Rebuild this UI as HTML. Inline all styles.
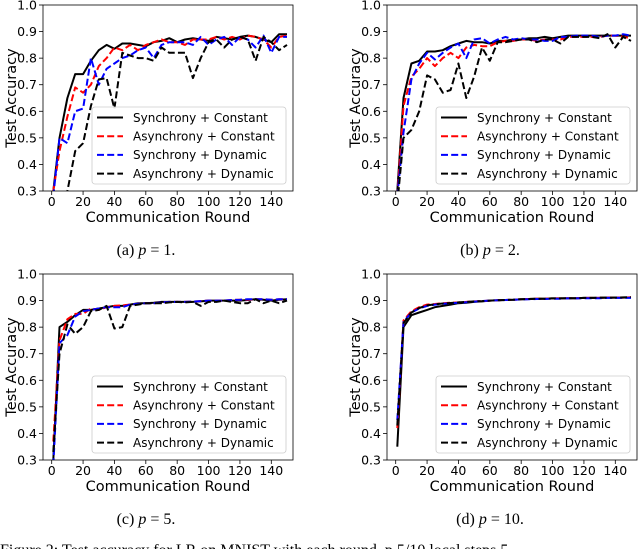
<!DOCTYPE html>
<html><head><meta charset="utf-8">
<style>
body{margin:0;background:#fff;width:640px;height:549px;overflow:hidden;}
svg{display:block;}
text{font-family:"DejaVu Sans","Liberation Sans",sans-serif;fill:#000;}
.cap{font-family:"Liberation Serif",serif;font-size:16px;}
</style></head>
<body>
<svg id="fig" width="640" height="549" viewBox="0 0 640 549"></svg>
<script>
const rounds = [1,5,10,15,20,25,30,35,40,45,50,55,60,65,70,75,80,85,90,95,100,105,110,115,120,125,130,135,140,145,150];
const seriesNames = ["Synchrony + Constant","Asynchrony + Constant","Synchrony + Dynamic","Asynchrony + Dynamic"];
const yTicks = [0.3,0.4,0.5,0.6,0.7,0.8,0.9,1.0];
const xTicks = [0,20,40,60,80,100,120,140];

const aSC = [0.30,0.50,0.65,0.74,0.74,0.79,0.83,0.85,0.835,0.855,0.855,0.85,0.845,0.86,0.865,0.875,0.86,0.87,0.875,0.87,0.865,0.88,0.875,0.87,0.88,0.885,0.88,0.87,0.86,0.89,0.89];
const aAC = [0.30,0.45,0.58,0.69,0.67,0.70,0.77,0.80,0.84,0.83,0.85,0.83,0.85,0.86,0.87,0.86,0.86,0.85,0.87,0.87,0.87,0.88,0.87,0.88,0.87,0.885,0.88,0.87,0.84,0.88,0.885];
const aSD = [0.28,0.50,0.48,0.60,0.61,0.80,0.70,0.76,0.78,0.80,0.81,0.83,0.84,0.80,0.85,0.86,0.86,0.86,0.85,0.88,0.85,0.87,0.88,0.85,0.88,0.87,0.84,0.885,0.82,0.88,0.88];
const aAD = [0.15,0.15,0.30,0.45,0.48,0.62,0.72,0.725,0.61,0.82,0.81,0.80,0.80,0.79,0.84,0.82,0.82,0.82,0.725,0.80,0.86,0.87,0.84,0.87,0.88,0.87,0.79,0.88,0.86,0.83,0.85];

const bSC = [0.30,0.65,0.78,0.79,0.825,0.825,0.83,0.845,0.855,0.865,0.86,0.86,0.855,0.865,0.865,0.87,0.87,0.875,0.875,0.88,0.875,0.88,0.885,0.885,0.885,0.885,0.885,0.885,0.885,0.885,0.885];
const bAC = [0.28,0.62,0.73,0.76,0.80,0.77,0.80,0.82,0.80,0.84,0.85,0.845,0.845,0.86,0.865,0.865,0.87,0.87,0.865,0.87,0.87,0.87,0.88,0.88,0.88,0.88,0.88,0.885,0.885,0.88,0.875];
const bSD = [0.28,0.52,0.72,0.78,0.82,0.795,0.82,0.84,0.855,0.80,0.87,0.875,0.855,0.87,0.88,0.87,0.875,0.87,0.87,0.865,0.865,0.88,0.88,0.885,0.885,0.885,0.88,0.885,0.885,0.89,0.885];
const bAD = [0.25,0.50,0.53,0.60,0.735,0.72,0.67,0.68,0.78,0.65,0.73,0.84,0.79,0.86,0.86,0.865,0.87,0.87,0.86,0.87,0.87,0.855,0.88,0.88,0.88,0.88,0.875,0.89,0.84,0.88,0.865];

const cSC = [0.30,0.80,0.82,0.845,0.865,0.865,0.87,0.875,0.88,0.88,0.885,0.89,0.89,0.892,0.895,0.895,0.895,0.895,0.895,0.897,0.90,0.90,0.90,0.90,0.90,0.902,0.905,0.903,0.90,0.903,0.905];
const cAC = [0.37,0.75,0.83,0.85,0.85,0.87,0.865,0.875,0.88,0.882,0.885,0.888,0.89,0.89,0.893,0.895,0.895,0.895,0.896,0.898,0.90,0.90,0.90,0.902,0.903,0.903,0.905,0.905,0.903,0.905,0.905];
const cSD = [0.28,0.74,0.77,0.84,0.86,0.865,0.87,0.875,0.875,0.875,0.885,0.888,0.89,0.89,0.893,0.895,0.895,0.895,0.896,0.898,0.90,0.90,0.90,0.902,0.903,0.905,0.905,0.905,0.903,0.905,0.905];
const cAD = [0.33,0.70,0.81,0.775,0.80,0.86,0.865,0.88,0.795,0.80,0.88,0.885,0.89,0.89,0.89,0.893,0.895,0.893,0.895,0.88,0.895,0.895,0.90,0.895,0.89,0.89,0.905,0.89,0.90,0.89,0.90];

const dSC = [0.35,0.80,0.845,0.855,0.865,0.875,0.88,0.885,0.89,0.892,0.895,0.897,0.90,0.901,0.902,0.903,0.905,0.906,0.907,0.907,0.908,0.908,0.909,0.909,0.91,0.91,0.91,0.911,0.911,0.911,0.912];
const dAC = [0.42,0.825,0.86,0.875,0.885,0.887,0.89,0.892,0.893,0.895,0.897,0.898,0.90,0.901,0.902,0.903,0.905,0.906,0.907,0.907,0.908,0.908,0.909,0.909,0.91,0.91,0.91,0.911,0.911,0.911,0.912];
const dSD = [0.45,0.82,0.855,0.87,0.88,0.885,0.888,0.89,0.892,0.894,0.896,0.898,0.90,0.901,0.902,0.903,0.904,0.905,0.906,0.906,0.907,0.907,0.908,0.908,0.909,0.909,0.909,0.91,0.91,0.91,0.91];
const dAD = [0.43,0.815,0.855,0.872,0.882,0.886,0.889,0.891,0.893,0.895,0.897,0.898,0.90,0.901,0.902,0.903,0.905,0.906,0.907,0.907,0.908,0.908,0.909,0.909,0.91,0.91,0.911,0.911,0.911,0.912,0.913];

const panels = [
  {id:"a", caption:"p = 1.", ox:0, oy:0, data:[aSC,aAC,aSD,aAD]},
  {id:"b", caption:"p = 2.", ox:344, oy:0, data:[bSC,bAC,bSD,bAD]},
  {id:"c", caption:"p = 5.", ox:0, oy:269, data:[cSC,cAC,cSD,cAD]},
  {id:"d", caption:"p = 10.", ox:344, oy:269, data:[dSC,dAC,dSD,dAD]}
];
const styles = [
  {c:"#000", dash:null},
  {c:"#ff0000", dash:"7,3.2"},
  {c:"#0000ff", dash:"7,3.2"},
  {c:"#000", dash:"7,3.2"}
];
const NS="http://www.w3.org/2000/svg";
const fig=document.getElementById("fig");
function mk(tag,attrs,parent){const e=document.createElementNS(NS,tag);for(const k in attrs)e.setAttribute(k,attrs[k]);(parent||fig).appendChild(e);return e;}

const L=43,R=293,T=5,B=191;
function xs(v){return 51.7+v*(271.3-51.7)/140;}
function ys(v){return B-(v-0.3)*(B-T)/0.7;}

panels.forEach(p=>{
  const g=mk("g",{transform:`translate(${p.ox},${p.oy})`});
  
  
  const cp=mk("clipPath",{id:"clip"+p.id},g);
  mk("rect",{x:L,y:T,width:R-L,height:B-T},cp);
  yTicks.forEach(t=>{
    const y=ys(t);
    mk("line",{x1:L-4,x2:L,y1:y,y2:y,stroke:"#000","stroke-width":0.8},g);
    const tx=mk("text",{x:L-6,y:y+4.5,"text-anchor":"end","font-size":"12.5"},g);
    tx.textContent=t.toFixed(1);
    
    
  });
  xTicks.forEach(t=>{
    const x=xs(t);
    mk("line",{x1:x,x2:x,y1:B,y2:B+4,stroke:"#000","stroke-width":0.8},g);
    const tx=mk("text",{x:x,y:B+15,"text-anchor":"middle","font-size":"12.5"},g);
    tx.textContent=t;
    
    
  });
  p.data.forEach((vals,i)=>{
    const d=vals.map((v,j)=>(j?"L":"M")+xs(rounds[j]).toFixed(1)+","+ys(v).toFixed(1)).join(" ");
    const path=mk("path",{d:d,fill:"none",stroke:styles[i].c,"stroke-width":2,"clip-path":`url(#clip${p.id})`,"stroke-linejoin":"round"},g);
    if(styles[i].dash)path.setAttribute("stroke-dasharray",styles[i].dash);
    
    
  });
  const frame=mk("rect",{x:L,y:T,width:R-L,height:B-T,fill:"none",stroke:"#000","stroke-width":0.8},g);
  
  
  const lg=mk("g",{},g);
  
  
  mk("rect",{x:92,y:107,width:194,height:77,rx:3,fill:"#fff","fill-opacity":0.85,stroke:"#ccc","stroke-width":0.8},lg);
  seriesNames.forEach((n,i)=>{
    const y=117.5+i*18.7;
    const ln=mk("line",{x1:97,x2:123,y1:y,y2:y,stroke:styles[i].c,"stroke-width":2},lg);
    if(styles[i].dash)ln.setAttribute("stroke-dasharray",styles[i].dash);
    const tx=mk("text",{x:133,y:y+4.3,"font-size":"12"},lg);
    tx.textContent=n;
    
    
  });
  const yl=mk("text",{x:0,y:0,"font-size":"14.5","text-anchor":"middle",transform:`translate(16,${(T+B)/2}) rotate(-90)`},g);
  yl.textContent="Test Accuracy";
  
  
  const xl=mk("text",{x:168,y:222,"font-size":"14.5","text-anchor":"middle"},g);
  xl.textContent="Communication Round";
  
  
  const cap=mk("text",{x:146,y:255,"text-anchor":"middle","class":"cap"},g);
  cap.innerHTML=`(${p.id}) <tspan font-style="italic">p</tspan> = ${p.caption.replace("p = ","")}`;
  
  
});
const fc=mk("text",{x:0,y:555,"class":"cap","font-size":"17"});
fc.textContent="Figure 2: Test accuracy for LR on MNIST with each round, p 5/10 local steps 5";


</script>
</body></html>
